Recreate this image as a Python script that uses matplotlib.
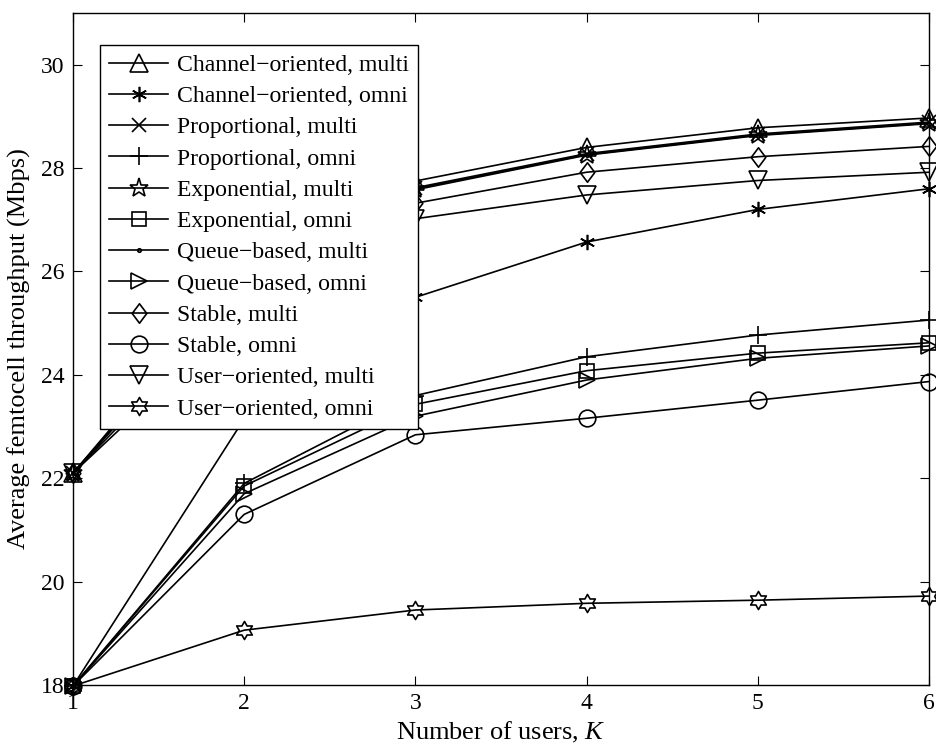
import numpy as np
import matplotlib
matplotlib.use("Agg")
import matplotlib.pyplot as plt
from matplotlib.path import Path

plt.rcParams["font.family"] = ["Liberation Serif", "DejaVu Serif"]
plt.rcParams["mathtext.fontset"] = "custom"
plt.rcParams["mathtext.it"] = "Liberation Serif:italic"
plt.rcParams["mathtext.rm"] = "Liberation Serif"

# number of users K
users = [1, 2, 3, 4, 5, 6]

labels = [
    "Channel\u2212oriented, multi",
    "Channel\u2212oriented, omni",
    "Proportional, multi",
    "Proportional, omni",
    "Exponential, multi",
    "Exponential, omni",
    "Queue\u2212based, multi",
    "Queue\u2212based, omni",
    "Stable, multi",
    "Stable, omni",
    "User\u2212oriented, multi",
    "User\u2212oriented, omni",
]

# average femtocell throughput (Mbps)
channel_multi = [22.1, 26.0, 27.75, 28.40, 28.78, 28.97]
channel_omni = [17.98, 23.15, 25.50, 26.57, 27.20, 27.60]
prop_multi = [22.1, 25.8, 27.62, 28.28, 28.66, 28.89]
prop_omni = [17.98, 21.90, 23.60, 24.35, 24.77, 25.06]
exp_multi = [22.1, 25.8, 27.60, 28.26, 28.64, 28.87]
exp_omni = [17.98, 21.85, 23.43, 24.08, 24.42, 24.62]
queue_multi = [22.1, 25.8, 27.58, 28.25, 28.63, 28.86]
queue_omni = [17.98, 21.70, 23.20, 23.90, 24.32, 24.56]
stable_multi = [22.1, 25.5, 27.32, 27.92, 28.22, 28.42]
stable_omni = [17.98, 21.30, 22.84, 23.16, 23.51, 23.87]
user_multi = [22.1, 25.2, 27.02, 27.48, 27.76, 27.92]
user_omni = [17.98, 19.06, 19.45, 19.58, 19.64, 19.72]

series = [channel_multi, channel_omni, prop_multi, prop_omni, exp_multi, exp_omni,
          queue_multi, queue_omni, stable_multi, stable_omni, user_multi, user_omni]

# MATLAB-like markers
tall_diamond = Path([(0, 1), (0.75, 0), (0, -1), (-0.75, 0), (0, 1)],
                    [Path.MOVETO, Path.LINETO, Path.LINETO, Path.LINETO, Path.CLOSEPOLY])
hexagram = Path.unit_regular_star(6, 0.577)
markers = ["^", (6, 2, 0), "x", "+", "*", "s", ".", ">", tall_diamond, "o", "v", hexagram]
sizes = [13, 11, 10, 13, 14, 10, 5, 12, 14, 12, 13, 13]

fig = plt.figure(figsize=(9.37, 7.49), dpi=100)
ax = fig.add_axes([0.0779, 0.0855, 0.9136, 0.8971])

for vals, lab, mk, ms in zip(series, labels, markers, sizes):
    ax.plot(users, vals, color="black", lw=1.2, marker=mk, markersize=ms,
            markerfacecolor="none", markeredgecolor="black", markeredgewidth=1.2,
            label=lab, clip_on=False)

ax.set_xlim(1, 6)
ax.set_ylim(18, 31)
ax.set_xticks(users)
ax.set_yticks(np.arange(18, 31, 2))
ax.tick_params(direction="in", length=6.5, width=0.8, top=True, right=True,
               labelsize=17, pad=6)
for s in ax.spines.values():
    s.set_linewidth(1.0)

ax.set_xlabel("Number of users, $K$", fontsize=19, labelpad=4)
ax.set_ylabel("Average femtocell throughput (Mbps)", fontsize=19, labelpad=7)

leg = ax.legend(loc="upper left", bbox_to_anchor=(0.0315, 0.952), borderaxespad=0,
                fontsize=17.1, fancybox=False, edgecolor="black", framealpha=1,
                handlelength=2.5, handletextpad=0.38, labelspacing=0.405,
                borderpad=0.38)
leg.get_frame().set_linewidth(1.0)

fig.savefig("out.png", dpi=100)
